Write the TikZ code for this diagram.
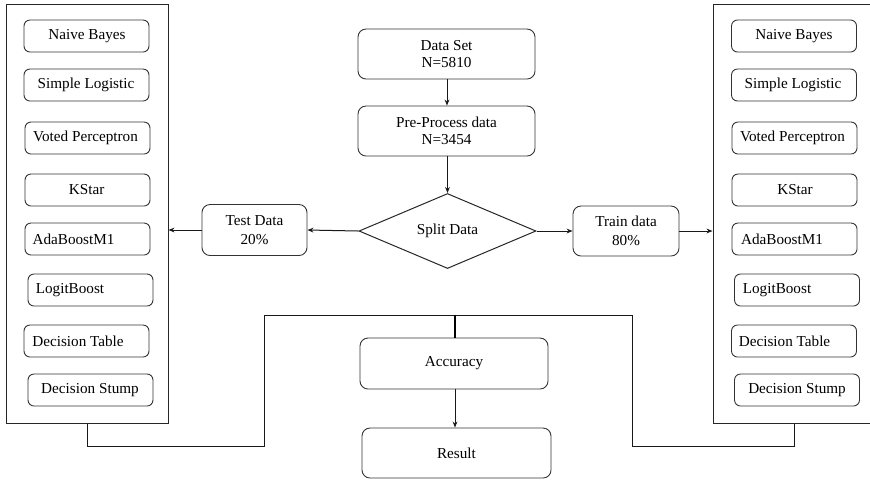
\documentclass[tikz,border=0pt]{standalone}
\usepackage{fontspec}
\setmainfont{Liberation Serif}
\newfontfamily\boxfont{Liberation Serif}
\usetikzlibrary{arrows.meta,shapes.geometric,calc}
\tikzset{
  every node/.style={font=\boxfont\fontsize{7.6}{8.5}\selectfont},
  panel/.style={draw=black!85, line width=0.5pt, inner sep=0pt, minimum width=81pt, minimum height=209.5pt},
  algbox/.style={draw=black!80, line width=0.45pt, rounded corners=3pt, inner sep=0pt, minimum width=62.5pt, minimum height=16pt},
  algtext/.style={inner sep=0pt},
  flowbox/.style={draw=black!80, line width=0.45pt, rounded corners=4pt, inner sep=0pt, align=center},
  decision/.style={draw=black!85, line width=0.5pt, diamond, inner sep=0pt, minimum width=88.5pt, minimum height=35pt},
  link/.style={line width=0.5pt, draw=black!90},
  arrow/.style={link, -{Stealth[length=3pt,width=2.4pt]}},
  heavy/.style={line width=1pt, draw=black}
}
% one algorithm box: name, box x, y, text x, label
\newcommand{\algo}[5]{%
  \node[algbox] (#1) at (#2,#3) {};
  \node[algtext] (#1-t) at (#4,#3) {#5};}
\begin{document}
\begin{tikzpicture}[x=0.5pt, y=-0.5pt]
\useasboundingbox (0,0) rectangle (870,479);

% the two classifier panels
\node[panel] (lpanel) at (87,213.5) {};
\node[panel] (rpanel) at (794,213.5) {};

% left column of classifiers
\algo{lnb}{86.5}{36}{87}{Naive Bayes}
\algo{lsl}{86.5}{85}{86}{Simple Logistic}
\algo{lvp}{87.5}{138}{85.5}{Voted Perceptron}
\algo{lks}{87.5}{190}{86.7}{KStar}
\algo{lab}{87.5}{239}{73.5}{AdaBoostM1}
\algo{llb}{90.5}{290}{70}{LogitBoost}
\algo{ldt}{86.5}{341}{78}{Decision Table}
\algo{lds}{90.5}{390}{90}{Decision Stump}

% right column of classifiers
\algo{rnb}{794}{36}{794}{Naive Bayes}
\algo{rsl}{794}{85}{793}{Simple Logistic}
\algo{rvp}{794.5}{138}{792.5}{Voted Perceptron}
\algo{rks}{794.5}{190}{795}{KStar}
\algo{rab}{794.5}{239}{782}{AdaBoostM1}
\algo{rlb}{797}{290}{777}{LogitBoost}
\algo{rdt}{794}{341}{784.5}{Decision Table}
\algo{rds}{797}{390}{797}{Decision Stump}

% main flow
\node[flowbox, minimum width=88.5pt, minimum height=25pt] (data) at (446.5,54) {Data Set\\N=5810};
\node[flowbox, minimum width=88.5pt, minimum height=25pt] (prep) at (446.5,131) {Pre-Process data\\N=3454};
\node[decision] (split) at (447.5,231) {Split Data};
\node[flowbox, minimum width=52.5pt, minimum height=25.5pt] (test) at (254.5,230) {Test Data\\[1pt]20\%};
\node[flowbox, minimum width=53pt, minimum height=25pt] (train) at (626,231) {Train data\\[1pt]80\%};
\node[flowbox, minimum width=94pt, minimum height=25.5pt] (acc) at (454,363.5) {Accuracy};
\node[flowbox, minimum width=94.5pt, minimum height=25pt] (res) at (456.5,453) {Result};

\draw[arrow] (data.south -| 447,0) -- (prep.north -| 447,0);
\draw[arrow] (prep.south -| split.north) -- (split.north);
\draw[arrow] (split.west) -- (test.east);
\draw[arrow] (test.west) -- (test.west -| lpanel.east);
\draw[arrow] (split.east) -- (train.west);
\draw[arrow] (train.east) -- (train.east -| rpanel.west);
\draw[arrow] (acc.south -| 455,0) -- (res.north -| 455,0);

% results from both panels gathered into the accuracy step
\coordinate (ljoin) at (264,315);
\coordinate (rjoin) at (632,315);
\coordinate (top) at (455,315);
\draw[link] (lpanel.south) -- (lpanel.south |- 0,446) -- (ljoin |- 0,446) -- (ljoin) -- (rjoin) -- (rjoin |- 0,446) -- (rpanel.south |- 0,446) -- (rpanel.south);
\draw[heavy] (top) -- (acc.north -| top);
\end{tikzpicture}
\end{document}
